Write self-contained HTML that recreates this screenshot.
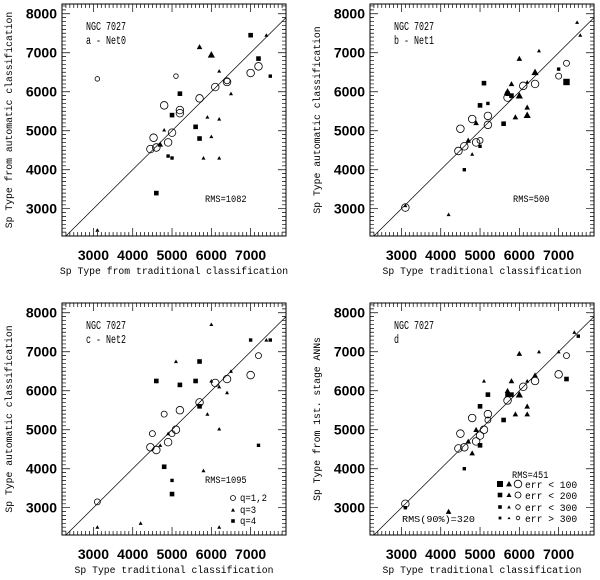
<!DOCTYPE html>
<html><head><meta charset="utf-8"><style>
html,body{margin:0;padding:0;background:#fff;}
svg{display:block;}
</style></head><body>
<svg id="fig" width="600" height="580" viewBox="0 0 600 580" xmlns="http://www.w3.org/2000/svg"></svg>
<script>
// ---- data (panel a: Net0) ----
const aCircX=[4450,4600,4900,5000,4530,4800,5200,5200,5700,6100,6400,7000,7200,3100,5100,6400];
const aCircY=[4530,4570,4700,4950,4820,5650,5530,5450,5830,6120,6250,6480,6650,6330,6400,6280];
const aCircS=[3,3,3,3,3,3,3,3,3,3,3,3,3,1,1,2];
const aTriX=[3100,4800,5700,6000,6200,7400,6500,5900,6200,6000,5800,6200,4700];
const aTriY=[2450,5020,7150,6950,6530,7450,5950,5350,5300,4850,4300,4300,4650];
const aTriS=[1,1,2,3,1,1,1,1,1,1,1,1,2];
const aSqX=[4600,4900,5000,5000,5200,5600,5700,7000,7200,7500];
const aSqY=[3400,4350,4300,5400,5950,5100,4800,7450,6850,6400];
const aSqS=[2,1,1,2,2,2,2,2,2,1];
// ---- panel b: Net1 ----
const bCircX=[3100,4450,4600,4900,5000,4500,4800,5200,5200,5700,6100,6400,7000,7200];
const bCircY=[3030,4480,4600,4700,4750,5050,5300,5380,5150,5850,6150,6200,6400,6730];
const bCircS=[3,3,3,3,2,3,3,3,3,3,3,3,2,2];
const bTriX=[3100,4200,4700,4800,4900,5800,5700,6000,6000,5900,6200,6200,6400,6500,6200,7470,7550];
const bTriY=[3080,2850,4750,4400,5200,6200,6000,6850,5900,5350,5600,5400,6500,7050,6250,7780,7450];
const bTriS=[1,1,2,1,2,2,3,2,3,2,2,3,3,1,1,1,1];
const bSqX=[4600,5000,5000,5100,5200,5600,5700,5800,7000,7200];
const bSqY=[4000,4600,5650,6220,5700,5180,5950,5900,6580,6250];
const bSqS=[1,1,2,2,1,2,2,2,1,3];
// ---- panel c: Net2 ----
const cCircX=[3100,4450,4600,4900,5000,5100,4500,4800,5200,5700,6100,6400,7000,7200];
const cCircY=[3150,4550,4480,4680,4900,5000,4900,5400,5500,5700,6200,6300,6400,6900];
const cCircS=[2,3,3,3,2,3,2,2,3,3,3,3,3,2];
const cTriX=[3100,4200,4700,4900,5100,5700,6000,6000,6200,6500,6400,5900,6200,5800,6200,7400];
const cTriY=[2500,2600,4600,4900,6750,6750,7700,6250,6100,6500,5950,5400,5020,3950,2500,7300];
const cTriS=[1,1,1,1,1,1,1,1,1,1,1,1,1,1,1,1];
const cSqX=[4600,5200,5600,5700,5000,5000,7000,7200,7500,4800,5700];
const cSqY=[6250,6150,6250,5600,3700,3350,7300,4600,7300,4050,6750];
const cSqS=[2,2,2,2,1,2,1,1,1,2,2];
// ---- panel d: 1st stage ANNs ----
const dCircX=[3100,4450,4600,4900,5000,5100,4500,4800,5200,5200,5700,6100,6400,7000,7200];
const dCircY=[3100,4520,4550,4700,4850,5000,4900,5300,5400,5250,5750,6100,6250,6420,6900];
const dCircS=[3,3,3,3,3,3,3,3,3,2,3,3,3,3,2];
const dTriX=[4200,4700,4800,4900,5100,5800,5700,6000,6000,5900,6200,6200,6400,6500,6200,7400,7000];
const dTriY=[2900,4700,4400,5000,6250,6250,6000,6950,5900,5400,5600,5400,6400,7000,6250,7500,7000];
const dTriS=[2,2,2,2,1,2,2,2,3,2,2,2,2,1,1,1,1];
const dSqX=[3100,4600,5000,5000,5200,5600,5700,5800,7200,7500];
const dSqY=[3000,4000,4600,5600,5900,5250,5900,5900,6300,7400];
const dSqS=[1,1,2,2,2,2,2,2,2,1];
const xTicks=[3000,4000,5000,6000,7000];
const yTicks=[3000,4000,5000,6000,7000,8000];

const NS='http://www.w3.org/2000/svg';
const svg=document.getElementById('fig');
function mk(tag,attrs,parent){const e=document.createElementNS(NS,tag);for(const k in attrs)e.setAttribute(k,attrs[k]);(parent||svg).appendChild(e);return e;}
function txt(s,attrs,parent){const e=mk('text',attrs,parent);e.textContent=s;return e;}

const XMIN=2200,XMAX=7900,YMIN=2300,YMAX=8250;
const panels=[
 {id:'a',x0:62,y0:4,ytitle:'Sp Type from automatic classification',xtitle:'Sp Type from traditional classification',lab:['NGC 7027','a - Net0'],
  C:[aCircX,aCircY,aCircS],T:[aTriX,aTriY,aTriS],S:[aSqX,aSqY,aSqS],rms:'RMS=1082',rmsPos:[205,202]},
 {id:'b',x0:370,y0:4,ytitle:'Sp Type automatic classification',xtitle:'Sp Type traditional classification',lab:['NGC 7027','b - Net1'],
  C:[bCircX,bCircY,bCircS],T:[bTriX,bTriY,bTriS],S:[bSqX,bSqY,bSqS],rms:'RMS=500',rmsPos:[513,202]},
 {id:'c',x0:62,y0:303,ytitle:'Sp Type automatic classification',xtitle:'Sp Type traditional classification',lab:['NGC 7027','c - Net2'],
  C:[cCircX,cCircY,cCircS],T:[cTriX,cTriY,cTriS],S:[cSqX,cSqY,cSqS],rms:'RMS=1095',rmsPos:[205,483]},
 {id:'d',x0:370,y0:303,ytitle:'Sp Type from 1st. stage ANNs',xtitle:'Sp Type traditional classification',lab:['NGC 7027','d'],
  C:[dCircX,dCircY,dCircS],T:[dTriX,dTriY,dTriS],S:[dSqX,dSqY,dSqS],rms:'RMS=451',rmsPos:[512,478]}
];
const W=224,H=232;
function circle(g,cx,cy,r){const e=mk('circle',{cx:cx,cy:cy,r:r,fill:'none',stroke:'#000','stroke-width':0.8},g);

return e;}
function tri(g,cx,cy,s){const e=mk('polygon',{points:`${cx-s},${cy+s*0.8} ${cx+s},${cy+s*0.8} ${cx},${cy-s}`,fill:'#000'},g);

return e;}
function sq(g,cx,cy,s){const e=mk('rect',{x:cx-s,y:cy-s,width:2*s,height:2*s,fill:'#000'},g);

return e;}
const cR=[0,2.3,3,3.8], tS=[0,2,2.8,3.6], sS=[0,1.7,2.3,3.2];

panels.forEach(p=>{
 const g=mk('g',{});
 
 
 const sx=v=>p.x0+(v-XMIN)/(XMAX-XMIN)*W;
 const sy=v=>p.y0+H-(v-YMIN)/(YMAX-YMIN)*H;
 const box=mk('rect',{x:p.x0,y:p.y0,width:W,height:H,fill:'none',stroke:'#000','stroke-width':1},g);
 
 
 let d='';
 for(let v=2300;v<=7900;v+=100){const x=sx(v);const L=(v%1000===0)?8:4;d+=`M${x},${p.y0+H}v${-L}M${x},${p.y0}v${L}`;}
 for(let v=2400;v<=8200;v+=100){const y=sy(v);const L=(v%1000===0)?8:4;d+=`M${p.x0},${y}h${L}M${p.x0+W},${y}h${-L}`;}
 const tk=mk('path',{d:d,stroke:'#000','stroke-width':0.7,fill:'none'},g);
 
 
 xTicks.forEach(v=>{const t=txt(String(v),{x:sx(v),y:p.y0+H+24,'font-family':'Liberation Sans, sans-serif','font-size':14,'font-weight':'bold','text-anchor':'middle'},g);
  
  });
 yTicks.forEach(v=>{const t=txt(String(v),{x:p.x0-5,y:sy(v)+5,'font-family':'Liberation Sans, sans-serif','font-size':14,'font-weight':'bold','text-anchor':'end'},g);
  
  });
 const xt=txt(p.xtitle,{x:p.x0+W/2,y:p.y0+H+38,'font-family':'Liberation Mono, monospace','font-size':10,'text-anchor':'middle',textLength:p.xtitle.length*5.85,lengthAdjust:'spacingAndGlyphs'},g);
 
 
 const yc=p.y0+H/2, yx=p.x0-50;
 const yt=txt(p.ytitle,{x:yx,y:yc,transform:`rotate(-90 ${yx} ${yc})`,'font-family':'Liberation Mono, monospace','font-size':10,'text-anchor':'middle',textLength:p.ytitle.length*5.85,lengthAdjust:'spacingAndGlyphs'},g);
 
 
 const lo=Math.max(XMIN,YMIN), hi=Math.min(XMAX,YMAX);
 const dl=mk('line',{x1:sx(lo),y1:sy(lo),x2:sx(hi),y2:sy(hi),stroke:'#000','stroke-width':0.7},g);
 
 
 p.lab.forEach((s,i)=>{const t=txt(s,{x:p.x0+24,y:p.y0+26+i*14,'font-family':'Liberation Mono, monospace','font-size':11.5,textLength:s.length*5,lengthAdjust:'spacingAndGlyphs'},g);
  
  });
 const r=txt(p.rms,{x:p.rmsPos[0],y:p.rmsPos[1],'font-family':'Liberation Mono, monospace','font-size':10.5,textLength:p.rms.length*5.2,lengthAdjust:'spacingAndGlyphs'},g);
 
 
 p.C[0].forEach((v,i)=>circle(g,sx(v),sy(p.C[1][i]),cR[p.C[2][i]]));
 p.T[0].forEach((v,i)=>tri(g,sx(v),sy(p.T[1][i]),tS[p.T[2][i]]));
 p.S[0].forEach((v,i)=>sq(g,sx(v),sy(p.S[1][i]),sS[p.S[2][i]]));
});

const lc=mk('g',{});


circle(lc,233,498,2.5);tri(lc,233,510,2);sq(lc,233,521,1.8);
[['q=1,2',501],['q=3',513],['q=4',524]].forEach(a=>{const t=txt(a[0],{x:240,y:a[1],'font-family':'Liberation Mono, monospace','font-size':10,textLength:a[0].length*5.4,lengthAdjust:'spacingAndGlyphs'},lc);
 
 });
const ld=mk('g',{});


const rows=[['err < 100',487,3,3,3.8],['err < 200',498,2.3,2.5,3],['err < 300',510,1.8,1.8,2.3],['err > 300',521,1.4,1.4,1.8]];
rows.forEach(rw=>{sq(ld,500,rw[1]-3,rw[2]);tri(ld,509,rw[1]-3,rw[3]);circle(ld,518,rw[1]-3,rw[4]);
 const t=txt(rw[0],{x:525,y:rw[1]+1,'font-family':'Liberation Mono, monospace','font-size':10,textLength:rw[0].length*5.8,lengthAdjust:'spacingAndGlyphs'},ld);
 
 });
const r90=txt('RMS(90%)=320',{x:402,y:522,'font-family':'Liberation Mono, monospace','font-size':9,textLength:73,lengthAdjust:'spacingAndGlyphs'});


</script>
</body></html>
